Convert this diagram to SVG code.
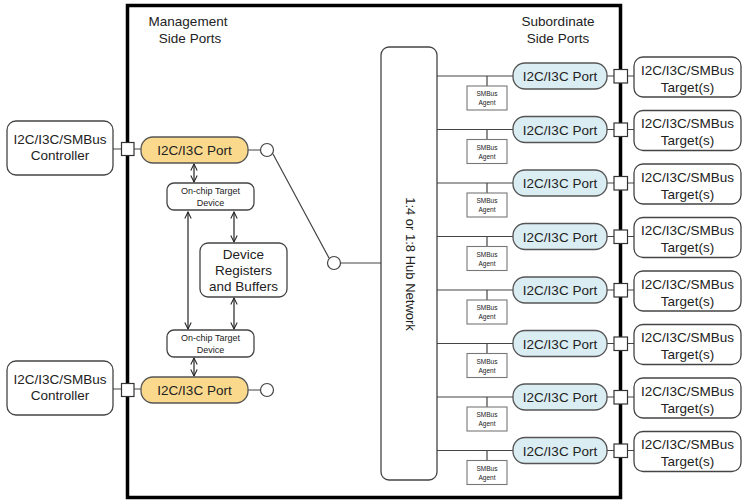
<svg xmlns="http://www.w3.org/2000/svg" width="746" height="503" viewBox="0 0 746 503">
<defs>
<marker id="ah" viewBox="0 0 10 10" refX="9" refY="5" markerWidth="8" markerHeight="8" orient="auto-start-reverse" markerUnits="userSpaceOnUse">
<path d="M1,1 L9,5 L1,9" fill="none" stroke="#222" stroke-width="1.3"/>
</marker>
<style>
text{font-family:"Liberation Sans",Arial,sans-serif;fill:#222;text-anchor:middle}
.lbl{font-size:13.5px}
.sm{font-size:9px}
.xs{font-size:6.5px}
.box{fill:#fff;stroke:#444;stroke-width:1.3}
.ybox{fill:#fbd98c;stroke:#555;stroke-width:1.3}
.bbox{fill:#daedf3;stroke:#555;stroke-width:1.3}
.ln{stroke:#444;stroke-width:1.2;fill:none}
.arr{stroke:#222;stroke-width:1.2;fill:none;marker-start:url(#ah);marker-end:url(#ah)}
.sq{fill:#fff;stroke:#333;stroke-width:1.2}
.sbox{fill:#fff;stroke:#777;stroke-width:1.1}
</style>
</defs>
<rect width="746" height="503" fill="#fff"/>
<g id="chip">
<rect x="127.5" y="5.5" width="493" height="492" fill="none" stroke="#000" stroke-width="3.5"/>
<text class="lbl" x="188" y="26">Management</text>
<text class="lbl" x="190" y="43">Side Ports</text>
<text class="lbl" x="558" y="26">Subordinate</text>
<text class="lbl" x="558" y="43">Side Ports</text>
</g>
<g id="connectors">
<path class="ln" d="M113,149 H122 M134,149 H141 M248,150 H261 M273,154 L329,258 M340,263 H381"/>
<path class="ln" d="M113,389 H122 M134,389 H141 M248,390 H261"/>
<path class="arr" d="M194,164 V182"/>
<path class="arr" d="M188,212 V329"/>
<path class="arr" d="M234,212 V242"/>
<path class="arr" d="M234,298 V329"/>
<path class="arr" d="M194,358 V376"/>
</g>
<g id="controller1"><rect class="box" x="7" y="121" width="106" height="54" rx="9"/><text class="lbl" x="60" y="144">I2C/I3C/SMBus</text><text class="lbl" x="60" y="160">Controller</text></g>
<g id="controller2"><rect class="box" x="7" y="361" width="106" height="54" rx="9"/><text class="lbl" x="60" y="384">I2C/I3C/SMBus</text><text class="lbl" x="60" y="400">Controller</text></g>
<g id="msq1"><rect class="sq" x="121.5" y="142.5" width="12.5" height="13"/></g>
<g id="msq2"><rect class="sq" x="121.5" y="383.5" width="12.5" height="13"/></g>
<g id="mport1"><rect class="ybox" x="141" y="137" width="107" height="26" rx="12"/><text class="lbl" x="194.5" y="155">I2C/I3C Port</text></g>
<g id="mport2"><rect class="ybox" x="141" y="377" width="107" height="26" rx="12"/><text class="lbl" x="194.5" y="395">I2C/I3C Port</text></g>
<g id="circ1"><circle cx="267" cy="150" r="6.5" fill="#fff" stroke="#444" stroke-width="1.2"/></g>
<g id="circ2"><circle cx="267" cy="390" r="6.5" fill="#fff" stroke="#444" stroke-width="1.2"/></g>
<g id="circ3"><circle cx="334" cy="263" r="6.5" fill="#fff" stroke="#444" stroke-width="1.2"/></g>
<g id="otd1"><rect class="box" x="167" y="183" width="87" height="27" rx="7" stroke="#666"/><text class="sm" x="210.5" y="194">On-chip Target</text><text class="sm" x="210.5" y="206">Device</text></g>
<g id="otd2"><rect class="box" x="167" y="330" width="87" height="27" rx="7" stroke="#666"/><text class="sm" x="210.5" y="341">On-chip Target</text><text class="sm" x="210.5" y="353">Device</text></g>
<g id="regs"><rect class="box" x="200" y="243" width="87" height="54" rx="8" stroke="#666"/><text class="lbl" x="243.5" y="259">Device</text><text class="lbl" x="243.5" y="275">Registers</text><text class="lbl" x="243.5" y="291">and Buffers</text></g>
<g id="hub"><rect class="box" x="381" y="47" width="56" height="433" rx="8"/><text class="lbl" transform="translate(411,264) rotate(90)" y="5" style="font-size:13px">1:4 or 1:8 Hub Network</text></g>
<g id="rows">
<g id="row1" transform="translate(0,0)">
<path class="ln" d="M437,76 H513 M487,76 V86 M607,76 H614 M628,76 H634"/>
<rect class="sbox" x="467" y="86" width="40" height="24"/><text class="xs" x="487" y="96">SMBus</text><text class="xs" x="487" y="105">Agent</text>
<rect class="bbox" x="513" y="63" width="94" height="26" rx="12"/><text class="lbl" x="560" y="81">I2C/I3C Port</text>
<rect class="sq" x="614" y="69.5" width="13.5" height="13.5"/>
<rect class="box" x="634" y="57" width="107" height="40" rx="9"/><text class="lbl" x="687.5" y="74.5">I2C/I3C/SMBus</text><text class="lbl" x="687.5" y="91.5">Target(s)</text>
</g>
<use href="#row1" transform="translate(0,53.5)"/>
<use href="#row1" transform="translate(0,107)"/>
<use href="#row1" transform="translate(0,160.5)"/>
<use href="#row1" transform="translate(0,214)"/>
<use href="#row1" transform="translate(0,267.5)"/>
<use href="#row1" transform="translate(0,321)"/>
<use href="#row1" transform="translate(0,374.5)"/>
</g>
</svg>
